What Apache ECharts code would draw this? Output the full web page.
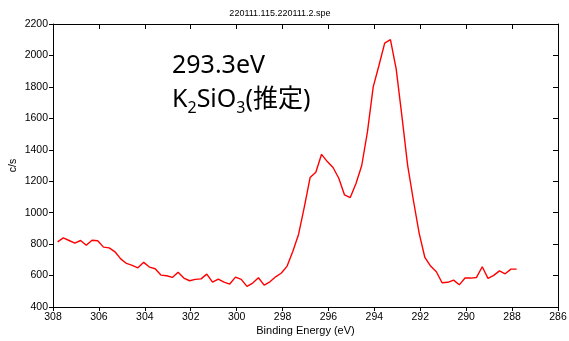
<!DOCTYPE html>
<html>
<head>
<meta charset="utf-8">
<script src="https://cdn.jsdelivr.net/npm/echarts@6/dist/echarts.min.js"></script>
<style>
  html, body { margin: 0; padding: 0; background: #fff; }
  #chart { width: 569px; height: 341px; }
</style>
</head>
<body>
<div id="chart"></div>
<script>
// XPS spectrum: binding energy (eV) vs counts per second
const bindingEnergy = [
  307.80, 307.55, 307.30, 307.05, 306.80, 306.55, 306.30, 306.05, 305.80, 305.55,
  305.30, 305.05, 304.80, 304.55, 304.30, 304.05, 303.80, 303.55, 303.30, 303.05,
  302.80, 302.55, 302.30, 302.05, 301.80, 301.55, 301.30, 301.05, 300.80, 300.55,
  300.30, 300.05, 299.80, 299.55, 299.30, 299.05, 298.80, 298.55, 298.30, 298.05,
  297.80, 297.55, 297.30, 297.05, 296.80, 296.55, 296.30, 296.05, 295.80, 295.55,
  295.30, 295.05, 294.80, 294.55, 294.30, 294.05, 293.80, 293.55, 293.30, 293.05,
  292.80, 292.55, 292.30, 292.05, 291.80, 291.55, 291.30, 291.05, 290.80, 290.55,
  290.30, 290.05, 289.80, 289.55, 289.30, 289.05, 288.80, 288.55, 288.30, 288.05,
  287.80
];
const countsPerSecond = [
  814, 840, 823, 806, 823, 793, 825, 821, 781, 776,
  751, 706, 677, 665, 649, 684, 654, 643, 603, 599,
  588, 621, 584, 567, 576, 579, 609, 558, 578, 558,
  546, 590, 576, 531, 552, 586, 539, 560, 592, 616,
  660, 755, 863, 1037, 1223, 1257, 1371, 1325, 1287, 1219,
  1113, 1096, 1185, 1300, 1515, 1800, 1936, 2078, 2100, 1915,
  1614, 1301, 1079, 870, 715, 660, 624, 554, 557, 571,
  541, 584, 584, 588, 656, 582, 601, 630, 611, 641,
  641
];
const xRange = { min: 286, max: 308, interval: 2 };
const yRange = { min: 400, max: 2200, interval: 200 };
const chartTitle = '220111.115.220111.2.spe';
const xName = 'Binding Energy (eV)';
const yName = 'c/s';
const peakText = '293.3eV';

const labelFont = "'Liberation Sans', Arial, sans-serif";
const noteFont = "'Noto Sans', 'Noto Sans CJK JP', sans-serif";

const chart = echarts.init(document.getElementById('chart'), null, { renderer: 'canvas' });

const axisLine = { show: true, onZero: false, lineStyle: { color: '#000', width: 1 } };
const tickStyle = { color: '#000', width: 1 };
const plain = v => String(v);

const option = {
  animation: false,
  backgroundColor: '#fff',
  grid: { left: 53, right: 11, top: 24, bottom: 34, containLabel: false, outerBoundsMode: 'none' },
  xAxis: [
    {
      type: 'value', position: 'bottom', inverse: true,
      min: xRange.min, max: xRange.max, interval: xRange.interval,
      axisLine: axisLine,
      axisTick: { show: true, inside: false, length: 4, lineStyle: tickStyle },
      axisLabel: { margin: 5, fontSize: 10.5, color: '#000', fontFamily: labelFont, formatter: plain },
      splitLine: { show: false },
      name: xName, nameLocation: 'middle', nameGap: 18, nameMoveOverlap: false,
      nameTextStyle: { fontSize: 11, color: '#000', fontFamily: labelFont }
    },
    {
      type: 'value', position: 'top', inverse: true,
      min: xRange.min, max: xRange.max, interval: xRange.interval,
      axisLine: axisLine,
      axisTick: { show: true, inside: true, length: 5, lineStyle: tickStyle },
      axisLabel: { show: false },
      splitLine: { show: false }
    }
  ],
  yAxis: [
    {
      type: 'value', position: 'left',
      min: yRange.min, max: yRange.max, interval: yRange.interval,
      axisLine: axisLine,
      axisTick: { show: true, inside: false, length: 4, lineStyle: tickStyle },
      axisLabel: { margin: 5, fontSize: 10.5, color: '#000', fontFamily: labelFont, formatter: plain },
      splitLine: { show: false },
      name: yName, nameLocation: 'middle', nameGap: 34, nameRotate: 90, nameMoveOverlap: false,
      nameTextStyle: { fontSize: 10.5, color: '#000', fontFamily: labelFont }
    },
    {
      type: 'value', position: 'right',
      min: yRange.min, max: yRange.max, interval: yRange.interval,
      axisLine: axisLine,
      axisTick: { show: true, inside: true, length: 5, lineStyle: tickStyle },
      axisLabel: { show: false },
      splitLine: { show: false }
    }
  ],
  series: [
    {
      type: 'line',
      xAxisIndex: 0, yAxisIndex: 0,
      data: bindingEnergy.map((e, i) => [e, countsPerSecond[i]]),
      showSymbol: false,
      symbol: 'none',
      lineStyle: { color: '#ff0000', width: 1.4 },
      clip: true
    }
  ],
  graphic: [
    {
      type: 'text', x: 280, y: 14,
      style: { text: chartTitle, fill: '#000', fontSize: 9, fontFamily: labelFont,
               align: 'center', verticalAlign: 'middle' }
    },
    {
      type: 'text', x: 172, y: 66,
      style: { text: peakText, fill: '#000', fontSize: 25, fontFamily: noteFont,
               align: 'left', verticalAlign: 'middle' }
    },
    {
      type: 'text', x: 172, y: 100,
      style: {
        text: '{n|K}{s|2}{n|SiO}{s|3}{n|(推定)}',
        align: 'left', verticalAlign: 'middle',
        rich: {
          n: { fontSize: 25, fontFamily: noteFont, fill: '#000', lineHeight: 32, verticalAlign: 'middle' },
          s: { fontSize: 16, fontFamily: noteFont, fill: '#000', lineHeight: 32, verticalAlign: 'bottom' }
        }
      }
    }
  ]
};

chart.setOption(option);
</script>
</body>
</html>
